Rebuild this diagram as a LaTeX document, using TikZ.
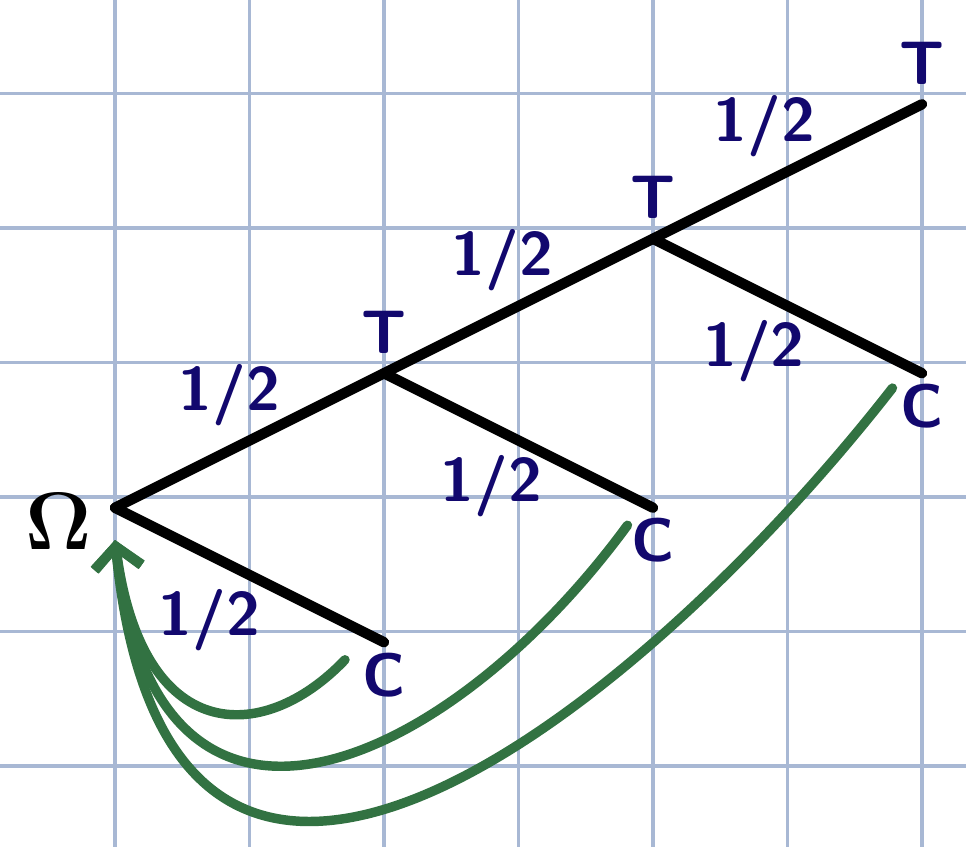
\documentclass[tikz,border=0pt]{standalone}
\usetikzlibrary{arrows.meta}
\definecolor{gridblue}{RGB}{168,184,212}
\definecolor{inknavy}{RGB}{18,8,110}
\definecolor{inkgreen}{RGB}{50,114,66}
\tikzset{
  branch/.style={line width=2.2pt, line cap=round},
  lbl/.style={text=inknavy, inner sep=2pt, font=\sffamily\bfseries\fontsize{13}{15}\selectfont},
  back/.style={inkgreen, line width=2pt, line cap=round, -{Straight Barb[length=4.5pt,width=10pt]}}
}
\begin{document}
\begin{tikzpicture}
  \useasboundingbox (-0.855,-2.602) rectangle (6.327,3.695);
  \draw[gridblue, line width=0.7pt] (-0.855,-2.602) grid (6.327,3.695);
  \coordinate (o) at (0,-0.08);
  \coordinate (tip) at (0,-0.32);
  \foreach \i/\x in {1/2,2/4,3/6} {
    \coordinate (t\i) at (\x,\i-0.08);
    \coordinate (c\i) at (\x,\i-2.08);
    \node[lbl, above, yshift=2pt] (lt\i) at (t\i) {T};
    \node[lbl, below] (lc\i) at (c\i) {C};
  }
  \node[left, xshift=-0.05cm, yshift=-0.1cm, font=\bfseries\fontsize{19}{21}\selectfont] (om) at (o) {$\mathbf{\Omega}$};
  \draw[branch] (o) -- node[lbl, above, xshift=-0.15cm] (p1) {1/2} (t1)
    -- node[lbl, above, xshift=-0.12cm] (p2) {1/2} (t2)
    -- node[lbl, above, xshift=-0.17cm] (p3) {1/2} (t3);
  \draw[branch] (o) -- node[lbl, below, xshift=-0.3cm] (q1) {1/2} (c1);
  \draw[branch] (t1) -- node[lbl, below, xshift=-0.2cm] (q2) {1/2} (c2);
  \draw[branch] (t2) -- node[lbl, below, xshift=-0.25cm] (q3) {1/2} (c3);
  \coordinate (s1) at (1.71,-1.21);
  \coordinate (s2) at (3.81,-0.21);
  \coordinate (s3) at (5.78,0.81);
  \draw[back] (s1) .. controls (1.1,-1.85) and (0.2,-1.85) .. (tip);
  \draw[back] (s2) .. controls (2.5,-2.0) and (0.3,-3.05) .. (tip);
  \draw[back] (s3) .. controls (3.9,-1.6) and (0.4,-4.4) .. (tip);
\end{tikzpicture}
\end{document}
